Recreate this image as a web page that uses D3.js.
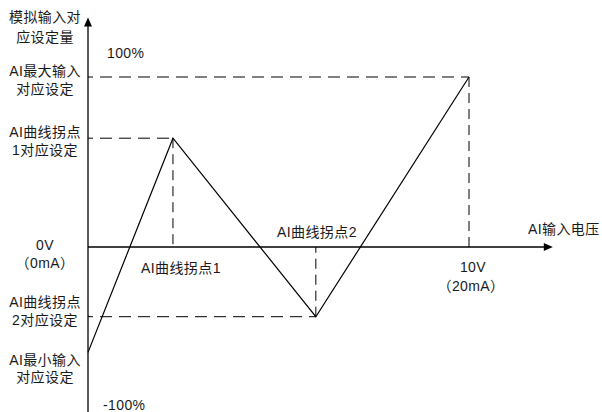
<html>
<head>
  <meta charset="utf-8">
  <script src="https://cdn.jsdelivr.net/npm/d3@7/dist/d3.min.js"></script>
  <style>
    body { margin:0; background:#fff; }
    text { font-family: "Liberation Sans", Arial, "Noto Sans CJK SC", sans-serif; font-size:14px; fill:#1a1a1a; letter-spacing:0.4px; }
  </style>
</head>
<body>
  <svg width="602" height="412"></svg>

  <script type="text/javascript">

  // curve: input voltage (V) -> setting (%)
  let inputV   = [0, 2.23, 5.98, 10]
  let settingP = [-62, 64, -41, 100]
  let xMax = 12.2     // end of x axis arrow
  let yMax = 135      // end of y axis arrow

  let svg = d3.select('svg')

  let x = d3.scaleLinear().domain([0, 10]).range([88, 469])
  let y = d3.scaleLinear().domain([-100, 100]).range([417, 77])

  let pts = inputV.map(function(v,i){ return {"x":v, "y":settingP[i]} })

  // dashed guides
  let guides = pts.slice(1)
  svg.selectAll(".hguide")
     .data(guides)
     .enter()
     .append("line")
     .attr("x1", x(0)).attr("x2", function(d){ return x(d.x) })
     .attr("y1", function(d){ return y(d.y) }).attr("y2", function(d){ return y(d.y) })
     .attr("stroke", "#000").attr("stroke-width", 1)
     .attr("stroke-dasharray", "12,7")
     .attr("stroke-dashoffset", -12)

  svg.selectAll(".vguide")
     .data(guides)
     .enter()
     .append("line")
     .attr("x1", function(d){ return x(d.x) }).attr("x2", function(d){ return x(d.x) })
     .attr("y1", function(d){ return y(d.y) }).attr("y2", y(0))
     .attr("stroke", "#000").attr("stroke-width", 1)
     .attr("stroke-dasharray", "10,6")

  // axes
  svg.append("line")
     .attr("x1", x(0)).attr("x2", x(xMax) - 8)
     .attr("y1", y(0)).attr("y2", y(0))
     .attr("stroke", "#000").attr("stroke-width", 1.3)
  svg.append("path")
     .attr("d", d3.line()([[x(xMax), y(0)], [x(xMax) - 9, y(0) - 4], [x(xMax) - 9, y(0) + 4]]) + "Z")
     .attr("fill", "#000")

  svg.append("line")
     .attr("x1", x(0)).attr("x2", x(0))
     .attr("y1", 412).attr("y2", y(yMax) + 8)
     .attr("stroke", "#000").attr("stroke-width", 1.3)
  svg.append("path")
     .attr("d", d3.line()([[x(0), y(yMax)], [x(0) - 4, y(yMax) + 9], [x(0) + 4, y(yMax) + 9]]) + "Z")
     .attr("fill", "#000")

  // curve
  svg.append("path")
     .datum(pts)
     .attr("d", d3.line().x(function(d){ return x(d.x) }).y(function(d){ return y(d.y) }))
     .attr("fill", "none")
     .attr("stroke", "#000")
     .attr("stroke-width", 1.2)

  // left labels
  let leftLabels = [
    {"t":["模拟输入对","应设定量"], "y":[22, 42]},
    {"t":["AI最大输入","对应设定"], "y":[76, 94]},
    {"t":["AI曲线拐点","1对应设定"], "y":[137, 155]},
    {"t":["0V","（0mA）"], "y":[250, 268]},
    {"t":["AI曲线拐点","2对应设定"], "y":[307, 325]},
    {"t":["AI最小输入","对应设定"], "y":[365, 382]}
  ]
  leftLabels.forEach(function(l){
    l.t.forEach(function(s,i){
      svg.append("text").attr("x", 45).attr("y", l.y[i]).attr("text-anchor","middle").text(s)
    })
  })

  svg.append("text").attr("x", 107).attr("y", 58).text("100%")
  svg.append("text").attr("x", 103).attr("y", 410).text("-100%")

  svg.append("text").attr("x", 141).attr("y", 273).text("AI曲线拐点1")
  svg.append("text").attr("x", 277).attr("y", 237).text("AI曲线拐点2")
  svg.append("text").attr("x", 528).attr("y", 234).text("AI输入电压")
  svg.append("text").attr("x", x(10) + 4).attr("y", 272).attr("text-anchor","middle").text("10V")
  svg.append("text").attr("x", x(10) + 2).attr("y", 291).attr("text-anchor","middle").text("（20mA）")

  </script>
</body>
</html>
